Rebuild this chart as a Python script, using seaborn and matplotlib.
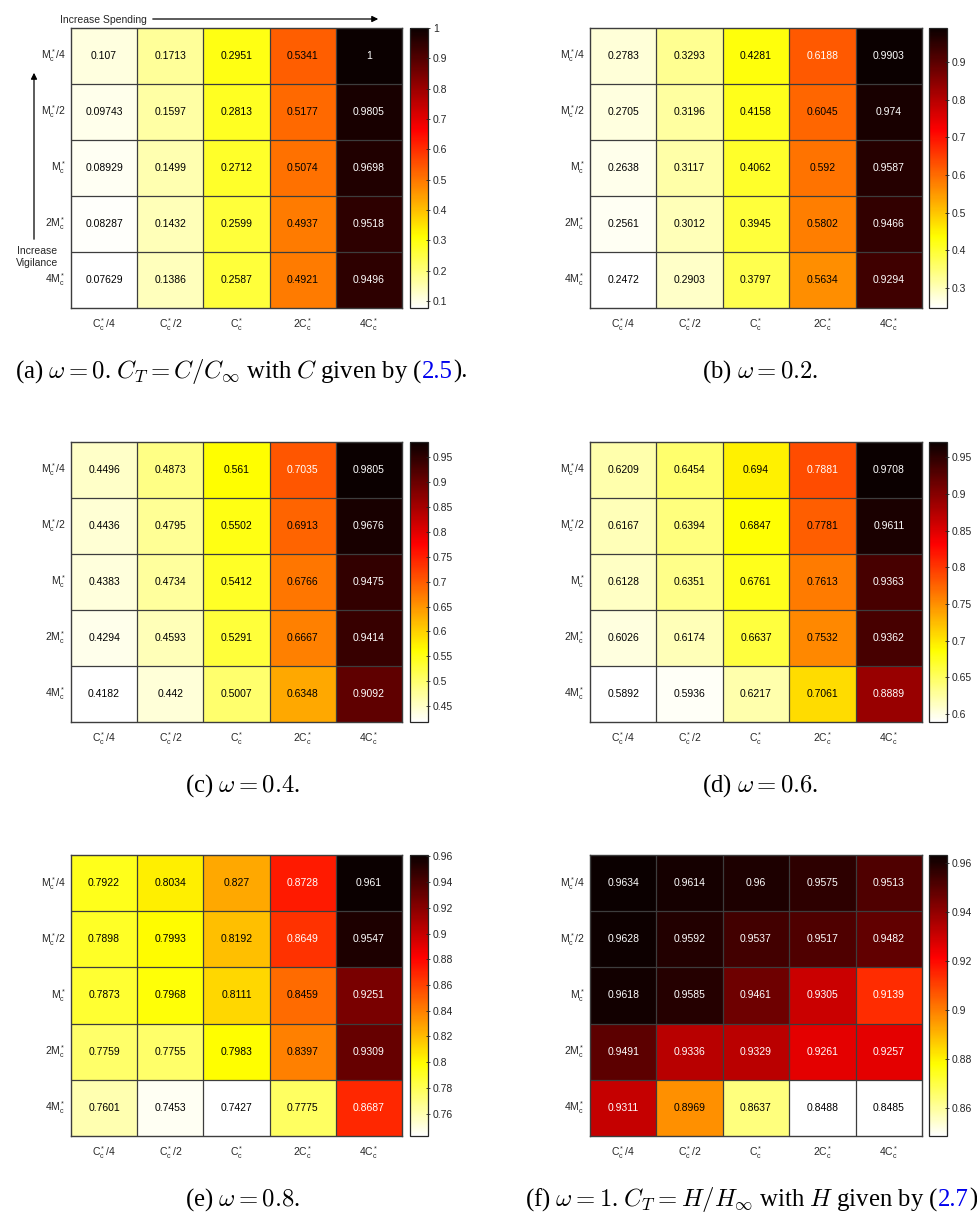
import numpy as np
import pandas as pd
import matplotlib
matplotlib.use("Agg")
import matplotlib.pyplot as plt
import seaborn as sns
from matplotlib.patches import FancyArrowPatch

# ---------------- data ----------------
row_labels = [r"$\mathregular{M_c^*/4}$", r"$\mathregular{M_c^*/2}$", r"$\mathregular{M_c^*}$",
              r"$\mathregular{2M_c^*}$", r"$\mathregular{4M_c^*}$"]
col_labels = [r"$\mathregular{C_c^*/4}$", r"$\mathregular{C_c^*/2}$", r"$\mathregular{C_c^*}$",
              r"$\mathregular{2C_c^*}$", r"$\mathregular{4C_c^*}$"]

omega_00 = [[0.107, 0.1713, 0.2951, 0.5341, 1],
            [0.09743, 0.1597, 0.2813, 0.5177, 0.9805],
            [0.08929, 0.1499, 0.2712, 0.5074, 0.9698],
            [0.08287, 0.1432, 0.2599, 0.4937, 0.9518],
            [0.07629, 0.1386, 0.2587, 0.4921, 0.9496]]
omega_02 = [[0.2783, 0.3293, 0.4281, 0.6188, 0.9903],
            [0.2705, 0.3196, 0.4158, 0.6045, 0.974],
            [0.2638, 0.3117, 0.4062, 0.592, 0.9587],
            [0.2561, 0.3012, 0.3945, 0.5802, 0.9466],
            [0.2472, 0.2903, 0.3797, 0.5634, 0.9294]]
omega_04 = [[0.4496, 0.4873, 0.561, 0.7035, 0.9805],
            [0.4436, 0.4795, 0.5502, 0.6913, 0.9676],
            [0.4383, 0.4734, 0.5412, 0.6766, 0.9475],
            [0.4294, 0.4593, 0.5291, 0.6667, 0.9414],
            [0.4182, 0.442, 0.5007, 0.6348, 0.9092]]
omega_06 = [[0.6209, 0.6454, 0.694, 0.7881, 0.9708],
            [0.6167, 0.6394, 0.6847, 0.7781, 0.9611],
            [0.6128, 0.6351, 0.6761, 0.7613, 0.9363],
            [0.6026, 0.6174, 0.6637, 0.7532, 0.9362],
            [0.5892, 0.5936, 0.6217, 0.7061, 0.8889]]
omega_08 = [[0.7922, 0.8034, 0.827, 0.8728, 0.961],
            [0.7898, 0.7993, 0.8192, 0.8649, 0.9547],
            [0.7873, 0.7968, 0.8111, 0.8459, 0.9251],
            [0.7759, 0.7755, 0.7983, 0.8397, 0.9309],
            [0.7601, 0.7453, 0.7427, 0.7775, 0.8687]]
omega_10 = [[0.9634, 0.9614, 0.96, 0.9575, 0.9513],
            [0.9628, 0.9592, 0.9537, 0.9517, 0.9482],
            [0.9618, 0.9585, 0.9461, 0.9305, 0.9139],
            [0.9491, 0.9336, 0.9329, 0.9261, 0.9257],
            [0.9311, 0.8969, 0.8637, 0.8488, 0.8485]]

cbar_ticks_00 = [0.1, 0.2, 0.3, 0.4, 0.5, 0.6, 0.7, 0.8, 0.9, 1.0]
cbar_ticks_02 = [0.3, 0.4, 0.5, 0.6, 0.7, 0.8, 0.9]
cbar_ticks_04 = [0.45, 0.5, 0.55, 0.6, 0.65, 0.7, 0.75, 0.8, 0.85, 0.9, 0.95]
cbar_ticks_06 = [0.6, 0.65, 0.7, 0.75, 0.8, 0.85, 0.9, 0.95]
cbar_ticks_08 = [0.76, 0.78, 0.8, 0.82, 0.84, 0.86, 0.88, 0.9, 0.92, 0.94, 0.96]
cbar_ticks_10 = [0.86, 0.88, 0.9, 0.92, 0.94, 0.96]

# ---------------- figure ----------------
W, H = 977, 1226
DPI = 100
plt.rcParams["font.family"] = ["Liberation Sans", "DejaVu Sans"]
plt.rcParams["mathtext.fontset"] = "cm"
fig = plt.figure(figsize=(W / DPI, H / DPI), dpi=DPI)
fig.patch.set_facecolor("white")


def px_axes(x0, y0, x1, y1):
    return fig.add_axes([x0 / W, 1 - y1 / H, (x1 - x0) / W, (y1 - y0) / H])


def fx(x):
    return x / W


def fy(y):
    return 1 - y / H


cmap = plt.get_cmap("hot_r")
TXT = "#262626"
GRID = "#3d3d3d"


def fmt_g(v):
    return "{:.4g}".format(v)


def panel(data, ticks, box, cbox):
    arr = np.array(data, dtype=float)
    df = pd.DataFrame(arr, index=row_labels, columns=col_labels)
    ax = px_axes(*box)
    cax = px_axes(*cbox)
    vmin, vmax = arr.min(), arr.max()
    labels = np.vectorize(fmt_g)(arr)
    sns.heatmap(df, ax=ax, cbar_ax=cax, cmap=cmap, vmin=vmin, vmax=vmax,
                annot=labels, fmt="", annot_kws={"fontsize": 7.5},
                linewidths=0, square=False)
    nr, nc = arr.shape
    for i in range(1, nr):
        ax.axhline(i, color=GRID, lw=0.9, zorder=3)
    for j in range(1, nc):
        ax.axvline(j, color=GRID, lw=0.9, zorder=3)
    # text colours: white on dark cells
    norm = plt.Normalize(vmin, vmax)
    for t in ax.texts:
        v = float(t.get_text())
        r, g, b, _ = cmap(norm(v))
        lum = 0.299 * r + 0.587 * g + 0.114 * b
        t.set_color("white" if lum < 0.51 else "black")
        t.set_zorder(4)
    ax.tick_params(axis="both", length=0, labelsize=7.5, colors=TXT)
    ax.tick_params(axis="y", pad=4)
    ax.tick_params(axis="x", pad=6)
    ax.set_yticklabels(row_labels, rotation=0, color=TXT)
    ax.set_xticklabels(col_labels, rotation=0, color=TXT)
    ax.set_xlabel("")
    ax.set_ylabel("")
    for side in ["bottom", "left", "top", "right"]:
        ax.spines[side].set_visible(True)
        ax.spines[side].set_color(GRID)
        ax.spines[side].set_linewidth(1.0)
    cb = ax.collections[0].colorbar
    cb.set_ticks(ticks)
    cb.set_ticklabels([("%g" % t) for t in ticks])
    cb.ax.tick_params(labelsize=7.5, length=3, width=0.6, direction="inout",
                      colors=TXT, pad=2)
    cb.outline.set_edgecolor("#262626")
    cb.outline.set_linewidth(0.9)
    return ax


panel(omega_00, cbar_ticks_00, (71, 28, 402, 308), (410, 28, 428, 308))
panel(omega_02, cbar_ticks_02, (590, 28, 922, 308), (929, 28, 947, 308))
panel(omega_04, cbar_ticks_04, (71, 442, 402, 722), (410, 442, 428, 722))
panel(omega_06, cbar_ticks_06, (590, 442, 922, 722), (929, 442, 947, 722))
panel(omega_08, cbar_ticks_08, (71, 855, 402, 1136), (410, 855, 428, 1136))
panel(omega_10, cbar_ticks_10, (590, 855, 922, 1136), (929, 855, 947, 1136))

# ---------------- panel (a) annotations ----------------
fig.text(fx(60), fy(20), "Increase Spending", fontsize=7.5, color=TXT,
         ha="left", va="center")
fig.add_artist(FancyArrowPatch((fx(150), fy(19)), (fx(381), fy(19)),
                               transform=fig.transFigure, arrowstyle="-|>",
                               mutation_scale=9, lw=0.9, color="black"))
fig.add_artist(FancyArrowPatch((fx(34), fy(242)), (fx(34), fy(70)),
                               transform=fig.transFigure, arrowstyle="-|>",
                               mutation_scale=9, lw=0.9, color="black"))
fig.text(fx(37), fy(257), "Increase\nVigilance", fontsize=7.5, color=TXT,
         ha="center", va="center", linespacing=1.25)

# ---------------- captions ----------------
CAP_FONT = ["Liberation Serif", "DejaVu Serif"]
CAP_SIZE = 17.8
renderer = fig.canvas.get_renderer()


def draw_pieces(x, y, pieces):
    xf = fx(x)
    for txt, col in pieces:
        t = fig.text(xf, fy(y), txt, fontsize=CAP_SIZE, family=CAP_FONT,
                     color=col, ha="left", va="baseline")
        bb = t.get_window_extent(renderer=renderer)
        xf += bb.width / W


def caption(xc, y, txt):
    fig.text(fx(xc), fy(y), txt, fontsize=CAP_SIZE, family=CAP_FONT,
             color="black", ha="center", va="baseline")


BLUE = "#0000ee"
draw_pieces(15, 378, [(r"(a) $\omega = 0$. $C_T = C/C_\infty$ with $C$ given by (", "black"),
                      ("2.5", BLUE), (").", "black")])
caption(760, 378, r"(b) $\omega = 0.2$.")
caption(242, 792, r"(c) $\omega = 0.4$.")
caption(760, 792, r"(d) $\omega = 0.6$.")
caption(242, 1206, r"(e) $\omega = 0.8$.")
draw_pieces(525, 1206, [(r"(f) $\omega = 1$. $C_T = H/H_\infty$ with $H$ given by (", "black"),
                        ("2.7", BLUE), (").", "black")])

fig.savefig("out.png", dpi=DPI)
